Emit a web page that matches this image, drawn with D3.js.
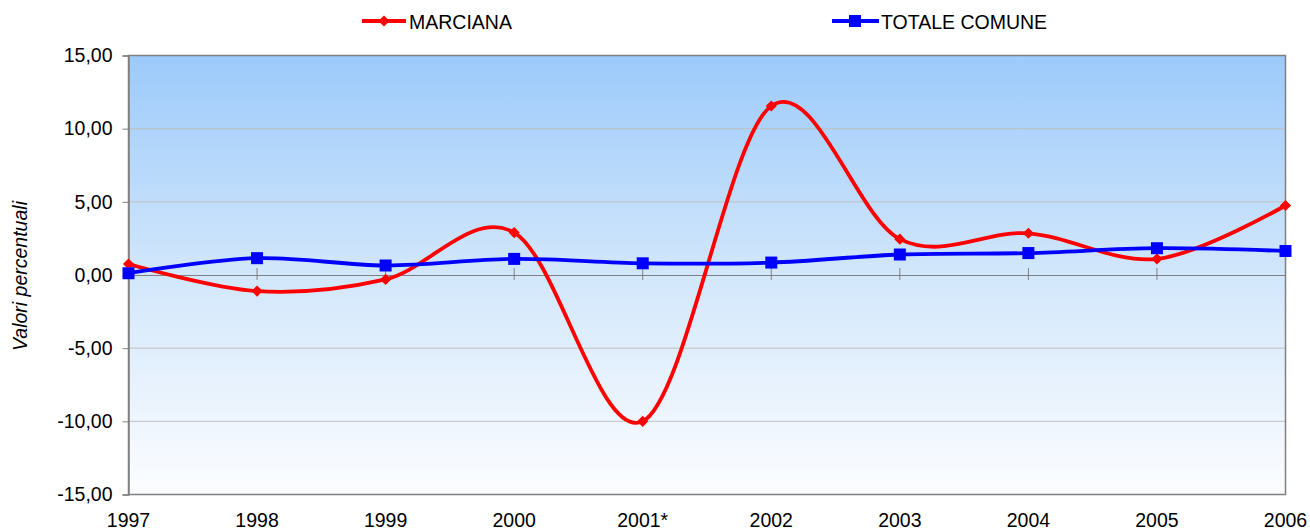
<!DOCTYPE html>
<html><head><meta charset="utf-8">
<script src="https://cdn.jsdelivr.net/npm/d3@7"></script>
<style>body{margin:0;background:#fff}svg{display:block}text{font-family:"Liberation Sans",Arial,sans-serif}</style>
</head><body><svg id="c" width="1310" height="531"></svg>
<script>
const categories = ["1997","1998","1999","2000","2001*","2002","2003","2004","2005","2006"];
const marciana = [0.75,-1.1,-0.3,2.9,-10.0,11.55,2.45,2.85,1.1,4.75];
const totale = [0.12,1.15,0.65,1.1,0.8,0.85,1.4,1.5,1.83,1.64];
const yTicks = [15,10,5,0,-5,-10,-15];
const seriesNames = ["MARCIANA","TOTALE COMUNE"];

const FS = 19.5;
const svg = d3.select("#c");
const L=128.5, R=1285.5, T=55.5, B=494.5;
const x = d3.scalePoint().domain(categories).range([L,R]);
const y = d3.scaleLinear().domain([-15,15]).range([B,T]);
const fmt = v => d3.format(".2f")(v).replace(".",",").replace("\u2212","-");

const defs = svg.append("defs");
const g = defs.append("linearGradient").attr("id","bg").attr("x1",0).attr("y1",0).attr("x2",0).attr("y2",1);
g.append("stop").attr("offset","0%").attr("stop-color","#9ccafb");
g.append("stop").attr("offset","50%").attr("stop-color","#d2e7fb");
g.append("stop").attr("offset","100%").attr("stop-color","#fcfdff");
svg.append("rect").attr("x",L).attr("y",T).attr("width",R-L).attr("height",B-T).attr("fill","url(#bg)");

// gridlines
svg.append("g").selectAll("line").data(yTicks.filter(d=>d!==0 && d!==15 && d!==-15)).join("line")
 .attr("x1",L).attr("x2",R).attr("y1",d=>y(d)).attr("y2",d=>y(d)).attr("stroke","#c0c0c0").attr("stroke-width",1);

// border
svg.append("rect").attr("x",L).attr("y",T).attr("width",R-L).attr("height",B-T).attr("fill","none").attr("stroke","#808080").attr("stroke-width",1.5);

// y axis
const ya = svg.append("g").attr("transform",`translate(${L},0)`).call(d3.axisLeft(y).tickValues(yTicks).tickFormat(fmt).tickSize(6).tickPadding(10));
ya.select(".domain").attr("stroke","#808080").attr("stroke-width",1.5);
ya.selectAll(".tick line").attr("stroke","#808080");
ya.selectAll("text").attr("font-size",FS).attr("fill","#000").attr("font-family","Liberation Sans, Arial, sans-serif");

// x axis at zero
const xa = svg.append("g").attr("transform",`translate(0,${y(0)})`).call(d3.axisBottom(x).tickSize(0).tickFormat(""));
xa.select(".domain").attr("stroke","#808080").attr("stroke-width",1.2);
svg.append("g").selectAll("line").data(categories.slice(1,-1)).join("line")
 .attr("x1",d=>x(d)).attr("x2",d=>x(d)).attr("y1",y(0)-7).attr("y2",y(0)+5).attr("stroke","#808080").attr("stroke-width",1);

// x labels
svg.append("g").selectAll("text").data(categories).join("text")
 .attr("x",d=>x(d)).attr("y",526.5).attr("text-anchor","middle").attr("font-size",FS).attr("fill","#000").text(d=>d);

// y title
svg.append("text").attr("transform","translate(27,276) rotate(-90)").attr("text-anchor","middle")
 .attr("font-size",19.5).attr("font-style","italic").text("Valori percentuali");

const line = d3.line().x((d,i)=>x(categories[i])).y(d=>y(d)).curve(d3.curveCardinal.tension(0));
svg.append("path").datum(marciana).attr("d",line).attr("fill","none").attr("stroke","#ff0000").attr("stroke-width",3.8);
svg.append("path").datum(totale).attr("d",line).attr("fill","none").attr("stroke","#0000ff").attr("stroke-width",3.8);

svg.append("g").selectAll("path").data(marciana).join("path")
 .attr("transform",(d,i)=>`translate(${x(categories[i])},${y(d)}) rotate(45)`)
 .attr("d",d3.symbol().type(d3.symbolSquare).size(62)).attr("fill","#ff0000");
svg.append("g").selectAll("rect").data(totale).join("rect")
 .attr("x",(d,i)=>x(categories[i])-6).attr("y",d=>y(d)-6).attr("width",12).attr("height",12).attr("fill","#0000ff");

// legend
const lg = svg.append("g");
lg.append("line").attr("x1",362).attr("x2",406).attr("y1",21).attr("y2",21).attr("stroke","#ff0000").attr("stroke-width",3.8);
lg.append("path").attr("transform","translate(384,21) rotate(45)").attr("d",d3.symbol().type(d3.symbolSquare).size(62)).attr("fill","#ff0000");
lg.append("text").attr("x",409).attr("y",28.5).attr("font-size",FS).text(seriesNames[0]);
lg.append("line").attr("x1",832).attr("x2",879).attr("y1",21).attr("y2",21).attr("stroke","#0000ff").attr("stroke-width",3.8);
lg.append("rect").attr("x",849).attr("y",15).attr("width",12).attr("height",12).attr("fill","#0000ff");
lg.append("text").attr("x",881).attr("y",28.5).attr("font-size",FS).text(seriesNames[1]);
</script></body></html>
